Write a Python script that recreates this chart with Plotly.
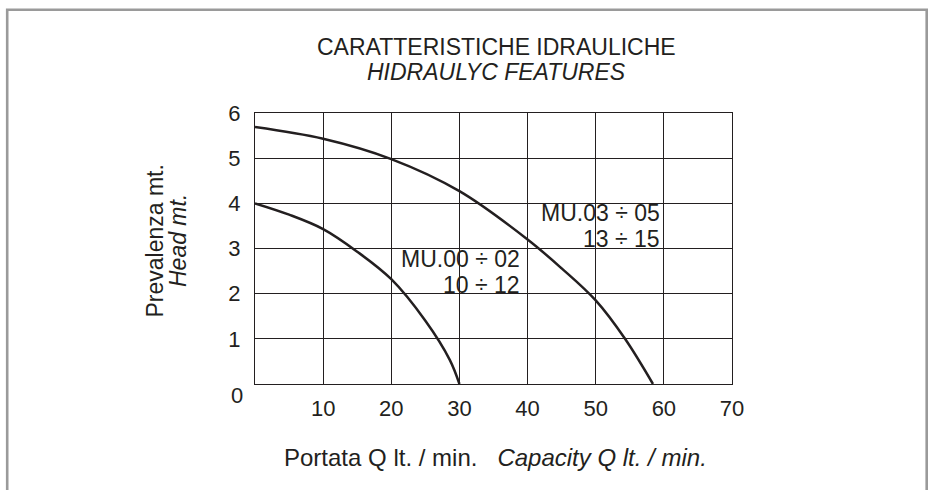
import plotly.graph_objects as go

# ---- data ----
flow_mu00 = [0, 5, 10, 15, 20, 25, 28.6, 30]
head_mu00 = [4.0, 3.75, 3.43, 2.93, 2.32, 1.4, 0.53, 0.0]

flow_mu03 = [0, 10, 20, 30, 40, 45, 50, 54.3, 58.4]
head_mu03 = [5.69, 5.43, 4.98, 4.27, 3.2, 2.56, 1.85, 1.0, 0.0]

x_ticks = [10, 20, 30, 40, 50, 60, 70]
y_ticks = [1, 2, 3, 4, 5, 6]

label_mu00 = ["MU.00 ÷ 02", "10 ÷ 12"]
label_mu03 = ["MU.03 ÷ 05", "13 ÷ 15"]

title_lines = ["CARATTERISTICHE IDRAULICHE", "<i>HIDRAULYC FEATURES</i>"]
y_title_lines = ["Prevalenza mt.", "<i>Head mt.</i>"]
x_title = "Portata Q lt. / min.   <i>Capacity Q lt. / min.</i>"

# ---- styling ----
INK = "#231f20"
FONT = "Liberation Sans, Arial, Helvetica, sans-serif"
W, H = 930, 490
ML, MR, MT, MB = 255, 198, 113, 106
PW, PH = W - ML - MR, H - MT - MB


def px(x):
    return (x - ML) / PW


def py(y):
    return (H - MB - y) / PH


fig = go.Figure()
for fx, hy in [(flow_mu00, head_mu00), (flow_mu03, head_mu03)]:
    fig.add_trace(go.Scatter(x=fx, y=hy, mode="lines",
                             line=dict(color=INK, width=2.5, shape="spline", smoothing=1),
                             hoverinfo="skip", showlegend=False))

annotations = []
# title
for txt, yy in zip(title_lines, [46.5, 72.5]):
    annotations.append(dict(text=txt, xref="paper", yref="paper", x=px(496), y=py(yy),
                            xanchor="center", yanchor="middle", showarrow=False,
                            font=dict(size=23, color=INK, family=FONT)))
# y title
for txt, xx in zip(y_title_lines, [154.5, 178]):
    annotations.append(dict(text=txt, xref="paper", yref="paper", x=px(xx), y=py(241),
                            xanchor="center", yanchor="middle", showarrow=False, textangle=-90,
                            font=dict(size=23, color=INK, family=FONT)))
# x title
annotations.append(dict(text=x_title, xref="paper", yref="paper", x=px(495), y=py(457),
                        xanchor="center", yanchor="middle", showarrow=False,
                        font=dict(size=24, color=INK, family=FONT)))
# curve labels
for lines, xr, ys in [(label_mu00, 39.2, [2.77, 2.19]), (label_mu03, 59.8, [3.79, 3.21])]:
    for txt, yy in zip(lines, ys):
        annotations.append(dict(text=txt, x=xr, y=yy, xref="x", yref="y",
                                xanchor="right", yanchor="middle", showarrow=False,
                                font=dict(size=23, color=INK, family=FONT)))
# shared origin label "0"
annotations.append(dict(text="0", x=0, y=0, xref="x", yref="y", xanchor="right",
                        yanchor="middle", xshift=-10, yshift=-11, showarrow=False,
                        font=dict(size=22, color=INK, family=FONT)))

# outer grey frame (open at the bottom)
frame_path = (f"M {px(7.2)},{py(492)} L {px(7.2)},{py(9.7)} "
              f"L {px(926.7)},{py(9.7)} L {px(926.7)},{py(492)}")
shapes = [dict(type="path", xref="paper", yref="paper", path=frame_path,
               line=dict(color="#9a9a9a", width=2.6))]

fig.update_layout(
    width=W, height=H,
    margin=dict(l=ML, r=MR, t=MT, b=MB, pad=0),
    paper_bgcolor="white", plot_bgcolor="white",
    font=dict(family=FONT, color=INK, size=22),
    annotations=annotations, shapes=shapes,
    xaxis=dict(range=[0, 70], tickvals=x_ticks, ticktext=[str(v) for v in x_ticks],
               showgrid=True, gridcolor=INK, gridwidth=1.4, zeroline=False,
               showline=True, linecolor=INK, linewidth=1.4, mirror=True,
               ticks="", ticklabelstandoff=4, tickfont=dict(size=22, color=INK),
               fixedrange=True),
    yaxis=dict(range=[0, 6], tickvals=y_ticks, ticktext=[str(v) for v in y_ticks],
               showgrid=True, gridcolor=INK, gridwidth=1.4, zeroline=False,
               showline=True, linecolor=INK, linewidth=1.4, mirror=True,
               ticks="", ticklabelstandoff=9, tickfont=dict(size=22, color=INK),
               fixedrange=True),
)

fig.write_html("out.html", config={"displayModeBar": False},
               post_script="document.body.style.margin='0';document.body.style.overflow='hidden';")
